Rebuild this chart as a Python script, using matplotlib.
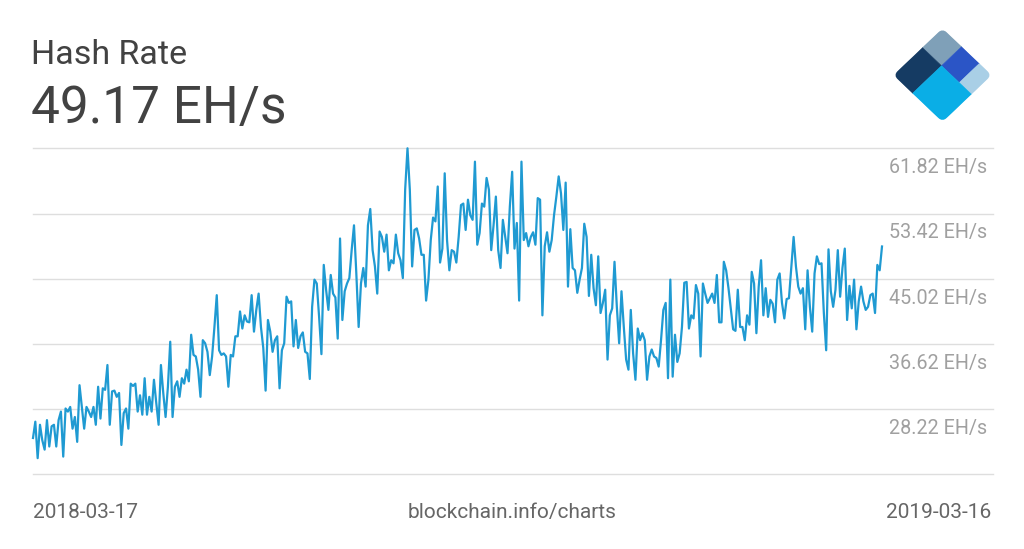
import pandas as pd
import matplotlib.pyplot as plt
from matplotlib.patches import Rectangle, FancyBboxPatch
from matplotlib.transforms import Affine2D

# Daily hash rate (EH/s), 2018-03-17 .. 2019-03-16
START_DATE = "2018-03-17"
END_DATE = "2019-03-16"

hash_rate_q1 = [
    24.5, 26.6, 21.9, 26.2, 24.2, 23.0, 26.8, 23.4, 26.0, 26.2,
    23.4, 26.8, 27.9, 22.1, 28.3, 27.9, 28.5, 25.7, 27.2, 24.0,
    31.3, 28.5, 25.7, 28.5, 27.9, 27.2, 28.5, 26.2, 31.1, 27.0,
    30.9, 30.7, 33.9, 26.2, 30.5, 30.6, 29.8, 30.3, 23.6, 27.7,
    28.3, 25.7, 31.5, 31.2, 31.5, 27.9, 30.0, 27.5, 32.2, 27.5,
    29.8, 27.9, 32.0, 29.0, 26.2, 33.9, 30.3, 27.2, 31.1, 36.9,
    27.2, 31.1, 31.8, 29.8, 32.2, 31.5, 33.3, 31.8, 37.8, 35.2,
    35.0, 33.3, 29.8, 37.1, 36.7, 35.6, 32.6, 35.0, 38.8, 42.9,
    35.8, 35.2, 35.4, 35.0, 31.1, 35.2, 35.0, 37.6,
]
hash_rate_q2 = [
    37.6, 40.8, 38.6, 40.3, 39.5, 39.4, 42.9, 38.2, 41.0, 43.1,
    38.8, 36.1, 30.6, 39.7, 38.2, 35.6, 37.1, 37.6, 30.9, 35.8,
    36.7, 42.7, 41.9, 42.1, 36.3, 39.7, 36.1, 37.6, 38.1, 35.6,
    35.4, 32.1, 41.4, 44.9, 44.4, 40.1, 35.3, 46.8, 43.6, 41.0,
    45.5, 43.1, 42.6, 37.3, 50.2, 39.7, 43.4, 44.4, 45.1, 48.7,
    51.9, 45.7, 38.8, 44.4, 46.4, 44.0, 51.9, 54.0, 48.7, 46.6,
    43.1, 51.1, 50.4, 48.5, 50.7, 46.1, 47.4, 47.0, 50.7, 48.3,
    47.4, 45.1, 56.5, 61.82, 56.5, 46.6, 51.3,
]
hash_rate_q3 = [
    51.5, 50.2, 48.1, 48.1, 42.2, 44.9, 50.0, 52.9, 52.4, 56.9,
    47.1, 48.9, 58.6, 50.0, 46.1, 48.7, 48.5, 47.1, 50.4, 54.5,
    54.7, 51.3, 55.2, 53.2, 52.6, 60.1, 49.4, 50.9, 54.7, 54.3,
    58.0, 56.5, 48.7, 51.9, 55.6, 48.7, 46.4, 52.6, 50.4, 48.3,
    54.3, 58.8, 48.9, 52.2, 42.2, 60.1, 50.0, 50.9, 49.2, 50.4,
    51.0, 49.4, 55.4, 55.2, 40.3, 49.2, 51.0, 48.5, 50.0, 53.2,
    55.6, 58.2, 56.0, 51.3, 57.4, 44.0, 51.4, 46.4, 46.1, 43.2,
    44.9, 46.4, 52.1, 50.4, 42.8, 48.1, 43.8, 41.6, 47.9, 40.6,
    41.9, 43.6, 34.6, 40.3, 41.2, 47.2,
]
hash_rate_q4 = [
    41.4, 36.7, 43.4, 38.8, 34.6, 33.3, 41.0, 35.4, 32.0, 38.6,
    37.1, 38.0, 37.1, 32.0, 35.0, 35.9, 35.0, 34.8, 33.7, 37.1,
    41.0, 41.9, 32.2, 44.9, 32.4, 37.8, 34.3, 35.4, 38.8, 44.5,
    44.6, 38.6, 40.3, 39.9, 44.2, 43.1, 35.0, 44.4, 43.1, 41.9,
    42.5, 43.1, 41.9, 45.5, 39.4, 39.4, 47.2, 46.1, 43.8, 41.2,
    38.5, 38.3, 43.6, 38.8, 38.8, 37.1, 40.3, 39.1, 45.9, 44.4,
    38.0, 44.0, 47.4, 40.3, 43.8, 40.1, 42.3, 41.8, 39.4, 44.9,
    45.7, 41.9, 39.9, 42.4, 42.5, 46.4, 50.4, 46.6, 44.0, 43.1,
    43.8, 38.5, 46.1, 41.4, 38.2, 45.7, 47.9, 46.9, 47.0, 40.6,
    35.8, 48.8, 43.4, 41.4, 43.6, 48.7, 42.7, 46.4, 48.9, 39.7,
    44.1, 41.2, 44.9, 38.5, 42.1, 44.0, 42.1, 41.0, 41.4, 42.9,
    43.1, 40.6, 46.8, 46.1, 49.17,
]

grid_values = [61.82, 53.42, 45.02, 36.62, 28.22, 19.82]
label_values = [61.82, 53.42, 45.02, 36.62, 28.22]

TITLE = "Hash Rate"
CURRENT = "49.17 EH/s"
SOURCE = "blockchain.info/charts"

W, H = 1024, 549
LINE_COLOR = "#1f9ad2"


def px(x, y):
    # pixel position (from top-left) -> figure fraction
    return x / W, 1 - y / H


def draw_logo(fig):
    # diamond logo: a rotated, rounded square cut into five pieces
    left, right, top, bottom = 893.3, 991.7, 28.3, 122.0
    lax = fig.add_axes([left / W, 1 - bottom / H, (right - left) / W, (bottom - top) / H])
    lax.set_xlim(-1, 1)
    lax.set_ylim(2, 0)
    lax.axis("off")

    # (a, b) unit square -> diamond
    rot = Affine2D.from_values(1, 1, -1, 1, 0, 0) + lax.transData

    clip = FancyBboxPatch((0, 0), 1, 1, boxstyle="round,pad=0,rounding_size=0.09",
                          transform=rot, facecolor="none", edgecolor="none")
    lax.add_patch(clip)

    pieces = [
        (0.0, 0.39, 0.0, 0.41, "#7fa0b8"),
        (0.0, 0.39, 0.41, 1.0, "#153b63"),
        (0.39, 0.75, 0.0, 0.41, "#2b55c6"),
        (0.75, 1.0, 0.0, 0.41, "#a9cfe6"),
        (0.39, 1.0, 0.41, 1.0, "#0aaee6"),
    ]
    for a0, a1, b0, b1, color in pieces:
        r = Rectangle((a0, b0), a1 - a0, b1 - b0, transform=rot,
                      facecolor=color, edgecolor=color, lw=0.4)
        lax.add_patch(r)
        r.set_clip_path(clip)


def main():
    plt.rcParams["font.family"] = ["Roboto", "DejaVu Sans"]

    values = hash_rate_q1 + hash_rate_q2 + hash_rate_q3 + hash_rate_q4
    dates = pd.date_range(START_DATE, END_DATE, periods=len(values))

    fig = plt.figure(figsize=(W / 100, H / 100), dpi=100)
    fig.patch.set_facecolor("white")

    x0, y0 = px(33, 474.3)
    x1, y1 = px(993, 148.3)
    ax = fig.add_axes([x0, y0, x1 - x0, y1 - y0])

    for v in grid_values:
        ax.axhline(v, color="#dedede", lw=1.0, zorder=1, clip_on=False)

    ax.plot(dates, values, color=LINE_COLOR, lw=1.6, zorder=3, clip_on=False,
            solid_joinstyle="round")

    span = dates[-1] - dates[0]
    ax.set_xlim(dates[0], dates[-1] + span * (111 / 849))
    ax.set_ylim(grid_values[-1], grid_values[0])
    ax.axis("off")

    # right side value labels
    for v in label_values:
        gy = 148.3 + (grid_values[0] - v) / 8.4 * 65.2
        fig.text(*px(987, gy + 25), f"{v:.2f} EH/s", ha="right", va="baseline",
                 fontsize=14.2, color="#a0a0a0")

    # header
    fig.text(*px(31, 64), TITLE, ha="left", va="baseline", fontsize=24.5, color="#424242")
    fig.text(*px(31, 123), CURRENT, ha="left", va="baseline", fontsize=37, color="#424242")

    # footer
    fig.text(*px(33, 518), dates[0].strftime("%Y-%m-%d"), ha="left", va="baseline",
             fontsize=15, color="#666666")
    fig.text(*px(512, 518), SOURCE, ha="center", va="baseline", fontsize=15, color="#666666")
    fig.text(*px(991, 518), dates[-1].strftime("%Y-%m-%d"), ha="right", va="baseline",
             fontsize=15, color="#666666")

    draw_logo(fig)

    fig.savefig("out.png", dpi=100, facecolor="white")


if __name__ == "__main__":
    main()
